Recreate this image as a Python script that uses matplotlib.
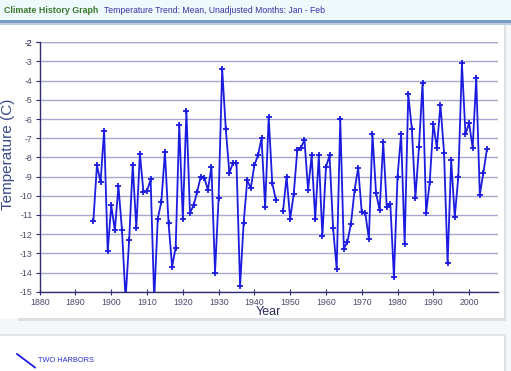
import numpy as np
import matplotlib.pyplot as plt
from matplotlib.patches import Rectangle
from matplotlib.lines import Line2D

plt.rcParams['font.family'] = ['Liberation Sans', 'DejaVu Sans']
plt.rcParams['axes.unicode_minus'] = False

# Mean Jan-Feb temperature, Two Harbors (1947 missing)
years_a = list(range(1895, 1947))
temps_a = [-11.3, -8.4, -9.3, -6.6, -12.9, -10.5, -11.8, -9.5, -11.8, -15.4,
           -12.3, -8.4, -11.7, -7.8, -9.8, -9.75, -9.15, -15.4, -11.2, -10.3,
           -7.7, -11.4, -13.7, -12.7, -6.3, -11.2, -5.6, -10.9, -10.5, -9.8,
           -9.0, -9.05, -9.7, -8.5, -14.0, -10.1, -3.4, -6.5, -8.8, -8.3,
           -8.3, -14.7, -11.4, -9.2, -9.6, -8.4, -7.9, -7.0, -10.6, -5.9,
           -9.35, -10.2]
years_b = list(range(1948, 2006))
temps_b = [-10.8, -9.0, -11.2, -9.9, -7.6, -7.5, -7.1, -9.7, -7.9, -11.2,
           -7.9, -12.1, -8.5, -7.9, -11.7, -13.8, -6.0,
           -12.75, -12.4, -11.45, -9.7, -8.55, -10.85, -10.9, -12.25, -6.8, -9.85,
           -10.75, -7.2, -10.6, -10.45, -14.25, -9.0, -6.8, -12.5, -4.7, -6.5,
           -10.1, -7.45, -4.1, -10.9, -9.3, -6.25, -7.5, -5.25, -7.75, -13.5,
           -8.15, -11.1, -9.0, -3.1, -6.8, -6.2, -7.5, -3.85, -9.95, -8.8, -7.55]

xticks = list(range(1880, 2001, 10))
yticks = list(range(-15, -1))

W, H = 511, 371
fig = plt.figure(figsize=(W / 100, H / 100), dpi=100)
fig.patch.set_facecolor('white')

def px_rect(x0, y0, x1, y1, **kw):
    # rectangle in pixel coords measured from top-left
    fig.patches.append(Rectangle((x0 / W, 1 - y1 / H), (x1 - x0) / W, (y1 - y0) / H,
                                 transform=fig.transFigure, figure=fig, **kw))

# backgrounds
px_rect(0, 0, W, H, facecolor='#f6f7f9', edgecolor='none', zorder=0)
px_rect(0, 0, W, 20, facecolor='#eef9fc', edgecolor='none', zorder=1)
px_rect(0, 20, W, 22.5, facecolor='#7b9fc4', edgecolor='none', zorder=2)
px_rect(0, 22.5, W, 24.5, facecolor='#b9cde0', edgecolor='none', zorder=2)
px_rect(18, 318, 506, 321, facecolor='#dcdfe3', edgecolor='none', zorder=1)
px_rect(0, 24.5, 504, 318, facecolor='white', edgecolor='none', zorder=2)
px_rect(504, 24.5, 506, 318, facecolor='#dcdfe3', edgecolor='none', zorder=2)
px_rect(0, 334, 506, 336, facecolor='#e2e5e8', edgecolor='none', zorder=1)
px_rect(0, 336, 504, H, facecolor='white', edgecolor='none', zorder=2)
px_rect(504, 336, 506, H, facecolor='#dcdfe3', edgecolor='none', zorder=2)

fig.text(4 / W, 1 - 10.5 / H, 'Climate History Graph', color='#3a7a2a',
         fontsize=6.4, fontweight='bold', va='center', ha='left')
fig.text(104 / W, 1 - 10.5 / H, 'Temperature Trend: Mean, Unadjusted Months: Jan - Feb',
         color='#3434a8', fontsize=6.2, va='center', ha='left')

ax = fig.add_axes([39.7 / W, 1 - 291.7 / H, 458 / W, 249.4 / H])
ax.set_facecolor('none')
ax.set_zorder(5)
line_kw = dict(color='#1c1ce0', lw=1.3, marker='+', ms=4.5, mew=1.3)
ax.plot(years_a, temps_a, **line_kw)
ax.plot(years_b, temps_b, **line_kw)

ax.set_xlim(1880, 2008)
ax.set_ylim(-15, -2)
ax.set_xticks(xticks)
ax.set_yticks(yticks + [-2])
ax.grid(axis='y', color='#a9a9cf', lw=1)
ax.set_axisbelow(True)
for s in ['top', 'right']:
    ax.spines[s].set_visible(False)
for s in ['left', 'bottom']:
    ax.spines[s].set_color('#2e2e6e')
    ax.spines[s].set_linewidth(1)
ax.tick_params(axis='x', direction='inout', length=5, color='#2e2e6e',
               labelsize=6.3, labelcolor='#4a4a6a', pad=2)
ax.tick_params(axis='y', direction='out', length=3, color='#2e2e6e',
               labelsize=6.3, labelcolor='#4a4a6a', pad=2)
ax.set_xlabel('Year', fontsize=9, color='#2a2a60', labelpad=-1)
ax.set_ylabel('Temperature (C)', fontsize=11, color='#3a4a8a',
              va='center', ha='center')
ax.yaxis.set_label_coords(-0.069, 0.55)

# legend entry
fig.lines.append(Line2D([17 / W, 35 / W], [1 - 354 / H, 1 - 367.5 / H],
                        transform=fig.transFigure, color='#1c1ce0', lw=1.3, zorder=6))
fig.text(38.5 / W, 1 - 360.5 / H, 'TWO HARBORS', color='#2a2ad0', fontsize=5.3,
         va='center', ha='left', zorder=6)

fig.savefig('out.png', dpi=100)
